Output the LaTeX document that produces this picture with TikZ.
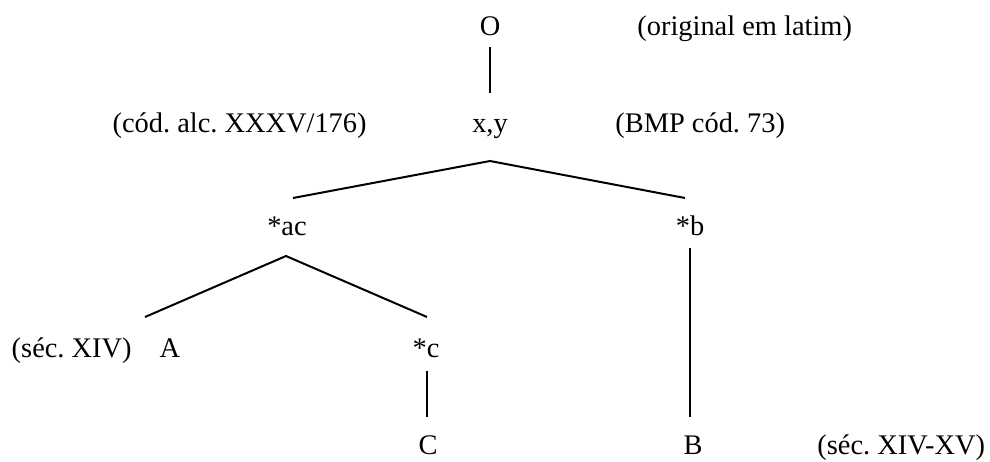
\documentclass[tikz,border=0pt]{standalone}
\usepackage{fontspec}
\setmainfont{Liberation Serif}
\frenchspacing
\begin{document}
\begin{tikzpicture}[x=0.5pt,y=-0.5pt]
\tikzset{
  sigla/.style={anchor=base,inner sep=0pt,font=\fontsize{14.2}{17}\selectfont},
  nota/.style={sigla},
  ramo/.style={line width=1pt}
}
\useasboundingbox (0,0) rectangle (990,461);

% Sigla
\node[sigla] (O) at (490,35) {O};
\node[sigla] (xy) at (490,132) {x,y};
\node[sigla] (ac) at (287,235) {*ac};
\node[sigla] (b) at (690,235) {*b};
\node[sigla] (A) at (170,357) {A};
\node[sigla] (c) at (426,357) {*c};
\node[sigla] (C) at (428,454) {C};
\node[sigla] (B) at (693,454) {B};

% Notes
\node[nota,anchor=base west] (nO) at (637,35) {(original em latim)};
\node[nota,anchor=base east] (nxl) at (367,132) {(cód. alc. XXXV/176)};
\node[nota,anchor=base west] (nxr) at (615,132) {(BMP cód. 73)};
\node[nota,anchor=base east] (nA) at (132,357) {(séc. XIV)};
\node[nota,anchor=base west] (nB) at (817,454) {(séc. XIV-XV)};

% Branch points
\coordinate (Obot) at (490,47);
\coordinate (xytop) at (490,93);
\coordinate (xyfork) at (490,161);
\coordinate (acup) at (293,198);
\coordinate (bup) at (685,198);
\coordinate (acfork) at (286,256);
\coordinate (Aup) at (145,317);
\coordinate (cup) at (427,317);
\coordinate (bdown) at (690,248);
\coordinate (Bup) at (690,417);
\coordinate (cdown) at (427,371);
\coordinate (Cup) at (427,417);

% Branches
\draw[ramo] (Obot) -- (xytop);
\draw[ramo] (acup) -- (xyfork) -- (bup);
\draw[ramo] (Aup) -- (acfork) -- (cup);
\draw[ramo] (bdown) -- (Bup);
\draw[ramo] (cdown) -- (Cup);
\end{tikzpicture}
\end{document}
